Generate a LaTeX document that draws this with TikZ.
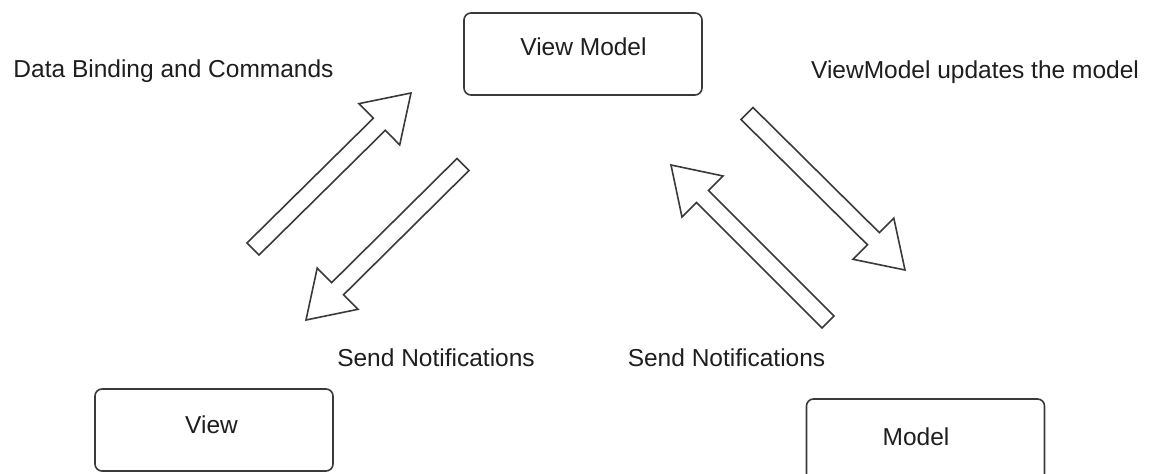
\documentclass[tikz,border=0pt]{standalone}
\usepackage{fontspec}
\setmainfont{Liberation Sans}
\usetikzlibrary{calc}
\definecolor{linegray}{HTML}{3A3A3A}
\definecolor{txtgray}{HTML}{1E1E1E}
\tikzset{
  boxnode/.style={draw=linegray, line width=1.6pt, rounded corners=7pt, minimum width=238pt, minimum height=82pt, inner sep=0pt},
  txt/.style={text=txtgray, font=\fontsize{24.5}{29}\selectfont, inner sep=0pt, anchor=base},
  arrowline/.style={draw=linegray, line width=1.6pt, line join=miter, fill=white}
}
\newcommand\blockarr[2]{%
  \draw[arrowline]
    ($(#1)!8.5pt!-90:(#2)$) --
    ($(#2)!44.5pt!(#1)!8.5pt!-90:(#2)$) --
    ($(#2)!44.5pt!(#1)!29pt!-90:(#2)$) --
    (#2) --
    ($(#2)!44.5pt!(#1)!29pt!90:(#2)$) --
    ($(#2)!44.5pt!(#1)!8.5pt!90:(#2)$) --
    ($(#1)!8.5pt!90:(#2)$) -- cycle;}
\begin{document}
\begin{tikzpicture}[x=1pt,y=1pt]
\useasboundingbox (0,0) rectangle (1149,-474);
\clip (0,0) rectangle (1149,-474);
\fill[white] (0,0) rectangle (1149,-474);
% boxes
\node[boxnode] (vm) at (583,-54) {};
\node[boxnode] (view) at (214,-430) {};
\node[boxnode] (model) at (925.5,-440) {};
% box texts
\node[txt] (vmt) at (583.5,-55) {View Model};
\node[txt] (viewt) at (211.5,-433) {View};
\node[txt] (modelt) at (916,-445) {Model};
% labels
\node[txt] (dbc) at (173.5,-77) {Data Binding and Commands};
\node[txt] (vmu) at (975,-78) {ViewModel updates the model};
\node[txt] (sn1) at (436,-366) {Send Notifications};
\node[txt] (sn2) at (726.5,-366) {Send Notifications};
% arrow ends
\coordinate (a1s) at (253,-249);   \coordinate (a1e) at (411,-93);
\coordinate (a2s) at (463,-164.5); \coordinate (a2e) at (306,-320);
\coordinate (a3s) at (747,-113.5); \coordinate (a3e) at (905,-270);
\coordinate (a4s) at (828,-322);   \coordinate (a4e) at (671,-165);
\blockarr{a1s}{a1e}
\blockarr{a2s}{a2e}
\blockarr{a3s}{a3e}
\blockarr{a4s}{a4e}
\end{tikzpicture}
\end{document}
